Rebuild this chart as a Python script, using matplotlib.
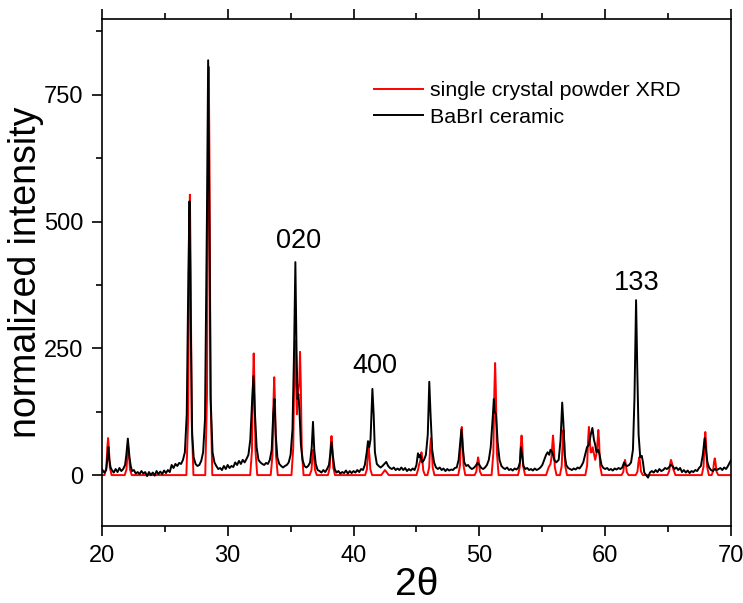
import numpy as np
import matplotlib
matplotlib.use("Agg")
import matplotlib.pyplot as plt

plt.rcParams['font.family'] = ['Liberation Sans', 'DejaVu Sans']

# simulated pattern from single crystal data (vertices)
x_sc = [20.0, 20.22, 20.36, 20.44, 20.5, 20.56, 20.64, 20.78,
        21.82, 21.96, 22.04, 22.1, 22.16, 22.24, 22.38,
        26.72, 26.86, 26.94, 27.0, 27.06, 27.14, 27.28,
        28.22, 28.36, 28.44, 28.5, 28.56, 28.64, 28.78,
        31.79, 31.93, 32.01, 32.07, 32.13, 32.21, 32.35,
        33.42, 33.56, 33.64, 33.7, 33.76, 33.84, 33.98,
        35.07, 35.21, 35.29, 35.35, 35.41, 35.5, 35.58, 35.69, 35.75, 35.81, 35.89, 36.03,
        36.52, 36.66, 36.74, 36.8, 36.86, 36.94, 37.08,
        37.97, 38.11, 38.19, 38.25, 38.31, 38.39, 38.53,
        40.92, 41.06, 41.14, 41.2, 41.26, 41.34, 41.48,
        42.2, 42.5, 42.8,
        45.0, 45.14, 45.22, 45.3, 45.36, 45.4, 45.46, 45.54, 45.68,
        45.87, 46.01, 46.09, 46.15, 46.21, 46.29, 46.43,
        48.32, 48.46, 48.54, 48.6, 48.66, 48.74, 48.88,
        49.62, 49.76, 49.84, 49.9, 49.96, 50.04, 50.18,
        50.97, 51.11, 51.19, 51.25, 51.31, 51.39, 51.53,
        53.07, 53.21, 53.29, 53.35, 53.41, 53.49, 53.63,
        55.3, 55.5, 55.65, 55.73, 55.79, 55.85, 55.91, 55.99, 56.13,
        56.4, 56.54, 56.62, 56.68, 56.74, 56.82, 56.96,
        58.42, 58.56, 58.64, 58.7, 58.76, 58.84, 58.92, 59.0, 59.08, 59.2, 59.33,
        59.39, 59.45, 59.51, 59.59, 59.73,
        61.29, 61.43, 61.51, 61.57, 61.63, 61.71, 61.85,
        62.42, 62.56, 62.64, 62.7, 62.76, 62.84, 62.98,
        64.94, 65.08, 65.16, 65.22, 65.3, 65.4, 65.58,
        67.67, 67.81, 67.89, 67.95, 68.01, 68.09, 68.23,
        68.45, 68.56, 68.64, 68.7, 68.76, 68.84, 68.98,
        70.0]
y_sc = [0, 0, 15, 55, 73, 55, 15, 0,
        0, 11, 41, 55, 41, 11, 0,
        0, 110, 415, 553, 415, 110, 0,
        0, 160, 605, 805, 605, 160, 0,
        0, 48, 180, 240, 180, 48, 0,
        0, 39, 145, 193, 145, 39, 0,
        0, 53, 200, 265, 200, 120, 160, 182, 243, 182, 49, 0,
        0, 10, 38, 50, 38, 10, 0,
        0, 15, 58, 77, 58, 15, 0,
        0, 11, 40, 53, 40, 11, 0,
        0, 10, 0,
        0, 12, 22, 28, 40, 45, 34, 9, 0,
        0, 15, 55, 73, 55, 15, 0,
        0, 19, 71, 95, 71, 19, 0,
        0, 7, 26, 35, 26, 7, 0,
        0, 44, 166, 221, 166, 44, 0,
        0, 16, 59, 78, 59, 16, 0,
        0, 15, 22, 35, 59, 78, 59, 16, 0,
        0, 18, 67, 89, 67, 18, 0,
        0, 19, 71, 95, 71, 45, 45, 55, 45, 30, 45,
        67, 89, 67, 18, 0,
        0, 6, 22, 30, 22, 6, 0,
        0, 7, 26, 35, 26, 7, 0,
        0, 8, 23, 30, 24, 12, 0,
        0, 17, 64, 85, 64, 17, 0,
        0, 7, 25, 33, 25, 7, 0,
        0]

x_cer = [20.0, 20.2, 20.35, 20.45, 20.52, 20.6, 20.7, 20.8, 20.95, 21.1, 21.25, 21.4,
         21.55, 21.7, 21.85, 21.95, 22.07, 22.2, 22.3, 22.4, 22.55, 22.7, 22.85, 23.0,
         23.15, 23.3, 23.45, 23.6, 23.75, 23.9, 24.05, 24.2, 24.35, 24.5, 24.65, 24.8,
         24.95, 25.1, 25.25, 25.4, 25.55, 25.7, 25.85, 26.0, 26.15, 26.3, 26.45, 26.6,
         26.75, 26.88, 26.97, 27.07, 27.18, 27.3, 27.45, 27.6, 27.75, 27.9, 28.05, 28.2,
         28.35, 28.45, 28.55, 28.65, 28.8, 28.95, 29.1, 29.25, 29.4, 29.55, 29.7, 29.85,
         30.0, 30.15, 30.3, 30.45, 30.6, 30.75, 30.9, 31.05, 31.2, 31.35, 31.5, 31.65,
         31.8, 31.95, 32.05, 32.15, 32.3, 32.45, 32.6, 32.75, 32.9, 33.05, 33.2, 33.35,
         33.5, 33.62, 33.72, 33.82, 33.95, 34.1, 34.25, 34.4, 34.55, 34.7, 34.85, 35.0,
         35.15, 35.28, 35.38, 35.47, 35.55, 35.62, 35.7, 35.82, 35.95, 36.1, 36.25, 36.4,
         36.55, 36.68, 36.78, 36.88, 37.0, 37.15, 37.3, 37.45, 37.6, 37.75, 37.9, 38.05,
         38.17, 38.25, 38.35, 38.5, 38.65, 38.8, 38.95, 39.1, 39.25, 39.4, 39.55, 39.7,
         39.85, 40.0, 40.15, 40.3, 40.45, 40.6, 40.75, 40.9, 41.05, 41.15, 41.25, 41.35,
         41.5, 41.6, 41.7, 41.85, 42.0, 42.15, 42.3, 42.45, 42.6, 42.75, 42.9, 43.05,
         43.2, 43.35, 43.5, 43.65, 43.8, 43.95, 44.1, 44.25, 44.4, 44.55, 44.7, 44.85,
         45.0, 45.12, 45.22, 45.3, 45.45, 45.6, 45.75, 45.9, 46.02, 46.12, 46.25, 46.4,
         46.55, 46.7, 46.85, 47.0, 47.15, 47.3, 47.45, 47.6, 47.75, 47.9, 48.05, 48.2,
         48.35, 48.5, 48.57, 48.68, 48.8, 48.95, 49.1, 49.25, 49.4, 49.55, 49.7, 49.85,
         50.0, 50.15, 50.3, 50.45, 50.6, 50.75, 50.9, 51.05, 51.15, 51.22, 51.32, 51.45,
         51.6, 51.75, 51.9, 52.05, 52.2, 52.35, 52.5, 52.65, 52.8, 52.95, 53.1, 53.22,
         53.3, 53.38, 53.5, 53.65, 53.8, 53.95, 54.1, 54.25, 54.4, 54.55, 54.7, 54.85,
         55.0, 55.15, 55.3, 55.42, 55.55, 55.65, 55.8, 55.95, 56.1, 56.3, 56.45, 56.58,
         56.68, 56.78, 56.9, 57.05, 57.2, 57.35, 57.5, 57.65, 57.8, 57.95, 58.1, 58.25,
         58.4, 58.55, 58.7, 58.85, 58.98, 59.1, 59.2, 59.3, 59.45, 59.55, 59.7, 59.85,
         60.0, 60.15, 60.3, 60.45, 60.6, 60.75, 60.9, 61.05, 61.2, 61.35, 61.5, 61.6,
         61.75, 61.9, 62.05, 62.2, 62.32, 62.45, 62.55, 62.65, 62.78, 62.9, 63.0, 63.1,
         63.25, 63.4, 63.55, 63.7, 63.85, 64.0, 64.15, 64.3, 64.45, 64.6, 64.75, 64.9,
         65.05, 65.2, 65.35, 65.5, 65.65, 65.8, 65.95, 66.1, 66.25, 66.4, 66.55, 66.7,
         66.85, 67.0, 67.15, 67.3, 67.45, 67.6, 67.75, 67.9, 68.0, 68.12, 68.25, 68.4,
         68.55, 68.7, 68.85, 69.0, 69.15, 69.3, 69.45, 69.6, 69.75, 69.9, 70.0]
y_cer = [12, 5, 10, 35, 55, 30, 15, 10, 5, 12, 6, 14,
         8, 12, 20, 40, 72, 35, 18, 8, 10, 3, 6, 2,
         8, 3, 6, -2, 6, 0, 5, -1, 8, 2, 7, 2,
         9, 4, 10, 6, 20, 14, 22, 18, 24, 22, 30, 45,
         120, 400, 540, 300, 80, 35, 22, 18, 20, 28, 45, 110,
         500, 818, 500, 150, 45, 25, 18, 12, 14, 10, 18, 12,
         20, 14, 18, 16, 25, 20, 28, 22, 30, 25, 32, 40,
         70, 150, 195, 130, 55, 30, 25, 22, 20, 24, 22, 30,
         50, 120, 150, 80, 35, 22, 18, 15, 18, 20, 25, 40,
         90, 250, 420, 250, 150, 160, 130, 60, 30, 18, 15, 18,
         25, 55, 105, 50, 22, 10, 8, 5, 10, 6, 12, 20,
         45, 65, 40, 12, 5, 8, 3, 6, 4, 9, 3, 8,
         4, 8, 5, 10, 6, 12, 10, 20, 45, 67, 55, 70,
         170, 120, 45, 22, 18, 15, 18, 22, 26, 18, 14, 12,
         15, 10, 13, 10, 15, 10, 14, 8, 12, 9, 13, 10,
         20, 43, 35, 40, 25, 30, 40, 80, 184, 120, 50, 25,
         15, 12, 15, 10, 13, 8, 12, 9, 11, 10, 14, 15,
         30, 70, 90, 55, 25, 18, 20, 15, 12, 14, 18, 24,
         20, 14, 12, 15, 20, 30, 55, 110, 150, 125, 120, 65,
         30, 18, 14, 12, 15, 10, 12, 9, 13, 11, 15, 25,
         55, 40, 18, 12, 14, 10, 12, 9, 13, 10, 12, 15,
         20, 30, 40, 45, 40, 50, 45, 30, 25, 30, 70, 143,
         100, 40, 20, 14, 12, 10, 13, 11, 15, 13, 18, 25,
         40, 55, 60, 80, 93, 70, 60, 45, 50, 40, 20, 14,
         12, 14, 10, 12, 9, 13, 11, 14, 12, 15, 25, 20,
         18, 20, 25, 50, 150, 345, 200, 80, 35, 38, 25, 5,
         0, -5, 5, 8, 5, 10, 6, 12, 8, 10, 14, 12,
         15, 20, 18, 12, 15, 10, 14, 6, 10, 5, 9, 4,
         8, 6, 10, 8, 14, 18, 40, 73, 50, 25, 15, 10,
         8, 12, 10, 12, 14, 10, 15, 12, 18, 25, 30]

peak_labels = ['020', '400', '133']
peak_label_x = [35.6, 41.7, 62.5]
peak_label_y = [462, 215, 378]

fig = plt.figure(figsize=(7.43, 6.03), dpi=100)
ax = fig.add_axes([0.137, 0.128, 0.847, 0.841])

ax.plot(x_sc, y_sc, color='#ff0000', lw=1.4, label='single crystal powder XRD')
ax.plot(x_cer, y_cer, color='black', lw=1.4, label='BaBrI ceramic')

for lab, px, py in zip(peak_labels, peak_label_x, peak_label_y):
    ax.text(px, py, lab, fontsize=19.5, ha='center', va='center')

ax.set_xlim(20, 70)
ax.set_ylim(-100, 900)
ax.set_xticks([20, 30, 40, 50, 60, 70])
ax.set_xticks([25, 35, 45, 55, 65], minor=True)
ax.set_yticks([0, 250, 500, 750])
ax.set_yticks([125, 375, 625, 875], minor=True)

ax.tick_params(which='both', direction='out', top=True, right=False,
               labelsize=17, width=1.2)
ax.tick_params(which='major', length=7)
ax.tick_params(which='minor', length=4)
ax.tick_params(axis='x', which='major', pad=7)
ax.tick_params(axis='y', which='major', pad=6)
for s in ax.spines.values():
    s.set_linewidth(1.2)

ax.set_xlabel('2θ', fontsize=28, labelpad=0)
ax.set_ylabel('normalized intensity', fontsize=27, labelpad=0)

ax.legend(loc='upper left', bbox_to_anchor=(0.415, 0.898), frameon=False,
          fontsize=15.4, handlelength=2.3, handletextpad=0.33, labelspacing=0.35,
          borderpad=0)

fig.savefig('out.png', dpi=100)
